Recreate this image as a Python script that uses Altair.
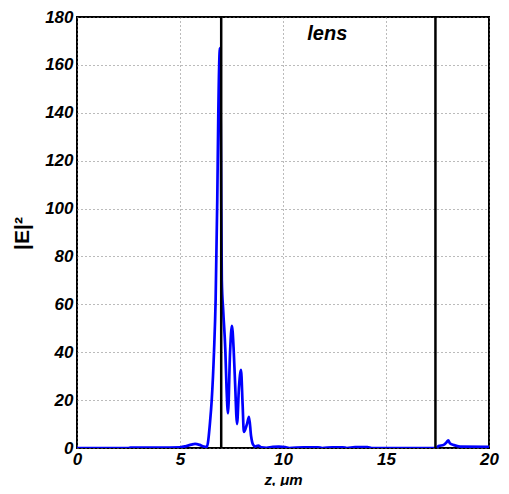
import altair as alt
import pandas as pd

# |E|^2 profile along z (um)
z_vals = [0.0, 2.5, 2.6, 4.0, 5.0, 5.3, 5.55, 5.73, 5.95, 6.15, 6.3, 6.46, 6.54, 6.65,
          6.73, 6.81, 6.86, 6.94, 6.99, 7.03, 7.1, 7.2, 7.26, 7.33, 7.43, 7.52, 7.6,
          7.67, 7.77, 7.86, 7.96, 8.04, 8.1, 8.25, 8.35, 8.45, 8.54, 8.65, 8.8, 8.95,
          9.2, 9.5, 9.8, 10.1, 10.3, 11.0, 11.7, 11.9, 12.4, 12.9, 13.1, 13.5, 14.1,
          14.3, 17.45, 17.55, 17.8, 17.95, 18.02, 18.1, 18.3, 18.6, 20.0]
e2_vals = [0.0, 0.0, 0.2, 0.2, 0.3, 0.8, 1.4, 1.7, 1.3, 0.6, 0.4, 11.0, 20.0, 40.0,
           62.0, 104.0, 140.0, 167.0, 120.0, 70.0, 57.0, 41.0, 25.0, 14.5, 40.0, 51.0, 42.0,
           28.0, 10.0, 25.0, 32.6, 18.0, 6.7, 10.0, 13.0, 5.0, 1.5, 0.6, 1.0, 0.3,
           0.1, 0.5, 0.6, 0.4, 0.0, 0.3, 0.3, 0.0, 0.3, 0.3, 0.0, 0.4, 0.4,
           0.0, 0.0, 0.8, 1.3, 2.5, 3.2, 2.0, 1.2, 0.6, 0.5]

lens_edges = [7.0, 17.4]
lens_label = ["lens"]
lens_label_pos = [12.15, 173.0]

x_ticks = [0, 5, 10, 15, 20]
y_ticks = [0, 20, 40, 60, 80, 100, 120, 140, 160, 180]

curve = pd.DataFrame({"z": z_vals, "e2": e2_vals})
edges = pd.DataFrame({"z": lens_edges, "lo": [0, 0], "hi": [180, 180]})
label = pd.DataFrame({"z": [lens_label_pos[0]], "e2": [lens_label_pos[1]], "t": lens_label})

xs = alt.Scale(domain=[0, 20], nice=False, zero=False)
ys = alt.Scale(domain=[0, 180], nice=False)

FONT = "Liberation Sans"

x_axis = alt.Axis(values=x_ticks, title="z, μm", titleFont=FONT, titleFontSize=15,
                  titleFontWeight="bold", titleFontStyle="italic", titleColor="black",
                  titleBaseline="alphabetic", titleY=36, titleX=206, labelPadding=3,
                  labelFlush=False)
y_axis = alt.Axis(values=y_ticks, title="|E|²", titleFont=FONT, titleFontSize=21,
                  titleFontWeight="bold", titleColor="black", titleAngle=-90,
                  titleAlign="center", titleBaseline="middle", titleX=-55, titleY=216,
                  labelFlush=False)

line = alt.Chart(curve).mark_line(color="#0000ff", strokeWidth=2.7,
                                  interpolate="monotone", clip=True).encode(
    x=alt.X("z:Q", scale=xs, axis=x_axis),
    y=alt.Y("e2:Q", scale=ys, axis=y_axis),
)

rules = alt.Chart(edges).mark_rule(color="black", strokeWidth=2.5).encode(
    x=alt.X("z:Q", scale=xs),
    y=alt.Y("lo:Q", scale=ys),
    y2="hi:Q",
)

text = alt.Chart(label).mark_text(font=FONT, fontSize=20, fontWeight="bold",
                                  fontStyle="italic", color="black").encode(
    x=alt.X("z:Q", scale=xs),
    y=alt.Y("e2:Q", scale=ys),
    text="t:N",
)

chart = alt.layer(line, rules, text).properties(
    width=412, height=431,
    background="white",
    autosize=alt.AutoSizeParams(type="none"),
    padding={"left": 69, "top": 9, "right": 12, "bottom": 38},
).configure_view(
    stroke="black", strokeWidth=2,
).configure_axis(
    domain=False, ticks=False, grid=True, gridColor="#777777", gridDash=[1, 3],
    gridWidth=1, labelFont=FONT, labelFontSize=17, labelFontWeight="bold",
    labelFontStyle="italic", labelColor="black", labelPadding=4,
)

chart.save("out.html", embed_options={"renderer": "svg", "actions": False})
